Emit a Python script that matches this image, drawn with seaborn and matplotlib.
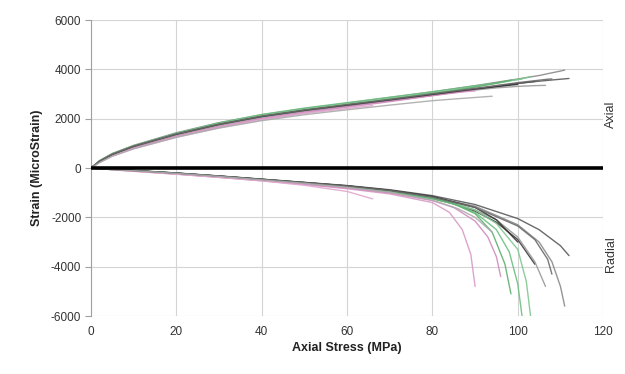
import matplotlib
matplotlib.use("Agg")
import matplotlib.pyplot as plt
import seaborn as sns
import pandas as pd

# ---- data ----
specimens = ["S1", "S2", "S3", "S4", "S5", "S6", "S7", "S8", "S9", "S10", "S11", "S12", "S13"]
colors = {"S1": "#3a3a3a", "S2": "#5a5a5a", "S3": "#8a8a8a", "S4": "#9a9a9a",
          "S5": "#6cbf80", "S6": "#80c890", "S7": "#5fb070",
          "S8": "#d99ac6", "S9": "#cf8cbc", "S10": "#e0a8cf",
          "S11": "#333333", "S12": "#6a6a6a", "S13": "#ababab"}

stress = {
    "S1": [0, 2, 5, 10, 20, 30, 40, 50, 60, 70, 80, 85, 90, 95, 100, 104],
    "S2": [0, 2, 5, 10, 20, 30, 40, 50, 60, 70, 80, 90, 100, 105, 110, 112],
    "S3": [0, 2, 5, 10, 20, 30, 40, 50, 60, 70, 80, 90, 100, 105, 108, 110, 111],
    "S4": [0, 2, 5, 10, 20, 30, 40, 50, 60, 70, 80, 90, 95, 100, 104, 106.5],
    "S5": [0, 2, 5, 10, 20, 30, 40, 50, 60, 70, 80, 85, 90, 95, 98, 100, 101],
    "S6": [0, 2, 5, 10, 20, 30, 40, 50, 60, 70, 80, 85, 90, 95, 100, 102, 103],
    "S7": [0, 2, 5, 10, 20, 30, 40, 50, 60, 70, 80, 85, 90, 94, 97, 98.4],
    "S8": [0, 2, 5, 10, 20, 30, 40, 50, 60, 70, 80, 84, 87, 89, 90],
    "S9": [0, 2, 5, 10, 20, 30, 40, 50, 60, 70, 80, 85, 90, 93, 95, 96],
    "S10": [0, 2, 5, 10, 20, 30, 40, 50, 60, 66],
    "S11": [0, 2, 5, 10, 20, 30, 40, 50, 60, 70, 80, 90, 95, 100],
    "S12": [0, 2, 5, 10, 20, 30, 40, 50, 60, 70, 80, 90, 100, 104, 107, 108],
    "S13": [0, 2, 5, 10, 20, 30, 40, 50, 60, 70, 80, 86, 90, 94],
}

axial = {
    "S1": [0, 260, 540, 860, 1350, 1750, 2070, 2310, 2520, 2730, 2950, 3070, 3190, 3310, 3430, 3510],
    "S2": [0, 280, 570, 890, 1390, 1790, 2110, 2350, 2560, 2770, 2990, 3210, 3430, 3520, 3600, 3630],
    "S3": [0, 300, 590, 920, 1430, 1840, 2160, 2410, 2630, 2860, 3090, 3340, 3610, 3750, 3860, 3930, 3970],
    "S4": [0, 270, 550, 870, 1360, 1760, 2080, 2320, 2530, 2740, 2960, 3160, 3250, 3310, 3340, 3350],
    "S5": [0, 290, 580, 900, 1410, 1830, 2170, 2430, 2650, 2870, 3090, 3210, 3330, 3450, 3540, 3590, 3610],
    "S6": [0, 280, 560, 880, 1380, 1790, 2120, 2380, 2600, 2820, 3050, 3170, 3300, 3430, 3590, 3660, 3710],
    "S7": [0, 260, 530, 850, 1340, 1740, 2070, 2330, 2560, 2790, 3020, 3140, 3280, 3410, 3510, 3560],
    "S8": [0, 240, 500, 800, 1270, 1660, 1980, 2230, 2460, 2690, 2930, 3020, 3080, 3110, 3120],
    "S9": [0, 250, 520, 830, 1310, 1700, 2020, 2270, 2490, 2710, 2940, 3060, 3190, 3280, 3330, 3360],
    "S10": [0, 220, 480, 780, 1240, 1630, 1950, 2210, 2410, 2530],
    "S11": [0, 270, 550, 880, 1370, 1770, 2090, 2340, 2550, 2760, 2980, 3200, 3300, 3390],
    "S12": [0, 280, 560, 880, 1380, 1780, 2100, 2350, 2570, 2780, 3010, 3230, 3460, 3540, 3600, 3610],
    "S13": [0, 220, 480, 780, 1250, 1620, 1920, 2160, 2360, 2550, 2730, 2810, 2860, 2910],
}

radial = {
    "S1": [0, -20, -55, -105, -210, -330, -460, -590, -730, -920, -1220, -1450, -1750, -2200, -2900, -3900],
    "S2": [0, -15, -50, -100, -200, -320, -450, -580, -710, -880, -1120, -1480, -2050, -2500, -3150, -3550],
    "S3": [0, -20, -60, -115, -225, -345, -470, -600, -740, -920, -1170, -1550, -2300, -3000, -3800, -4800, -5600],
    "S4": [0, -20, -60, -110, -215, -335, -465, -600, -750, -950, -1230, -1700, -2100, -2800, -3800, -4800],
    "S5": [0, -25, -65, -120, -235, -360, -490, -630, -780, -980, -1250, -1450, -1800, -2500, -3400, -4700, -6000],
    "S6": [0, -20, -60, -110, -220, -340, -470, -610, -760, -960, -1230, -1420, -1700, -2250, -3300, -4600, -6000],
    "S7": [0, -20, -55, -105, -215, -335, -465, -600, -750, -950, -1230, -1450, -1850, -2600, -3900, -5100],
    "S8": [0, -25, -70, -130, -250, -380, -520, -670, -840, -1050, -1400, -1800, -2500, -3500, -4800],
    "S9": [0, -20, -65, -120, -240, -365, -500, -650, -810, -1010, -1320, -1600, -2150, -2800, -3600, -4400],
    "S10": [0, -25, -70, -130, -250, -380, -520, -700, -950, -1250],
    "S11": [0, -15, -50, -100, -205, -325, -455, -590, -720, -900, -1150, -1600, -2100, -3000],
    "S12": [0, -15, -50, -105, -210, -330, -460, -590, -730, -910, -1180, -1600, -2350, -2900, -3700, -4300],
    "S13": [0, -20, -60, -110, -220, -340, -480, -620, -780, -980, -1300, -1650, -2000, -2600],
}

x_ticks = [0, 20, 40, 60, 80, 100, 120]
y_ticks = [-6000, -4000, -2000, 0, 2000, 4000, 6000]

# ---- build long table ----
rows = []
for s in specimens:
    for gauge, vals in (("Axial", axial[s]), ("Radial", radial[s])):
        for st, v in zip(stress[s], vals):
            rows.append({"stress": st, "strain": v, "specimen": s, "curve": f"{s}-{gauge}"})
df = pd.DataFrame(rows)

sns.set_theme(style="white")
plt.rcParams["font.family"] = ["Liberation Sans", "DejaVu Sans"]
plt.rcParams["axes.unicode_minus"] = False

fig = plt.figure(figsize=(6.25, 3.74), dpi=100)
ax = fig.add_axes([0.1456, 0.155, 0.8194, 0.7915])

ax.set_xlim(0, 120)
ax.set_ylim(-6000, 6000)
ax.set_xticks(x_ticks)
ax.set_yticks(y_ticks)
ax.grid(True, color="#d4d4d4", linewidth=0.8)
ax.set_axisbelow(True)

sns.lineplot(data=df, x="stress", y="strain", hue="specimen", units="curve",
             estimator=None, sort=False, palette=colors, linewidth=1.0,
             alpha=0.9, legend=False, ax=ax)

ax.axhline(0, color="black", linewidth=2.6, zorder=5)

for side in ("top", "right", "bottom"):
    ax.spines[side].set_visible(False)
ax.spines["left"].set_color("#a0a0a0")
ax.spines["left"].set_linewidth(0.8)
ax.tick_params(axis="y", which="major", length=4, color="#a0a0a0", width=0.8,
               labelsize=8.5, labelcolor="#333333", pad=3, left=True)
ax.tick_params(axis="x", which="major", length=0, labelsize=8.5,
               labelcolor="#333333", pad=7)

ax.set_xlabel("Axial Stress (MPa)", fontsize=9, fontweight="bold", color="#222222", labelpad=3)
ax.set_ylabel("Strain (MicroStrain)", fontsize=9, fontweight="bold", color="#222222", labelpad=6)

fig.text(0.978, 0.695, "Axial", rotation=90, ha="center", va="center",
         fontsize=9, color="#333333")
fig.text(0.978, 0.32, "Radial", rotation=90, ha="center", va="center",
         fontsize=9, color="#333333")

fig.savefig("out.png", dpi=100)
